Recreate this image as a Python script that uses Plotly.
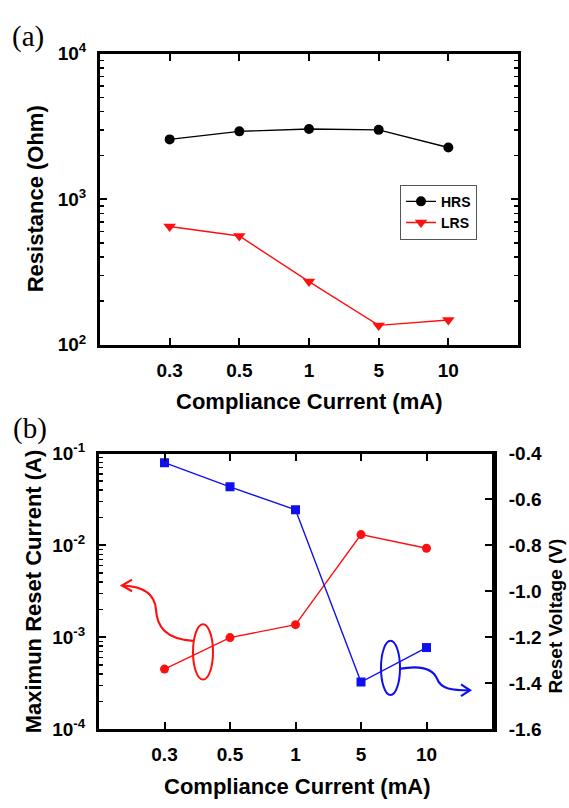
import plotly.graph_objects as go

W, H = 569, 808

# ---------------- data ----------------
categories = ['0.3', '0.5', '1', '5', '10']          # compliance current (mA)
hrs_ohm = [2580, 2930, 3040, 3000, 2270]            # HRS resistance (Ohm)
lrs_ohm = [650, 560, 272, 136, 148]                 # LRS resistance (Ohm)
reset_current_a = [4.5e-4, 9.9e-4, 1.37e-3, 1.31e-2, 9.3e-3]   # max reset current (A)
reset_voltage_v = [-0.44, -0.545, -0.645, -1.395, -1.245]      # reset voltage (V)

res_exponents = [2, 3, 4]
cur_exponents = [-4, -3, -2, -1]
volt_tickvals = [-1.6, -1.4, -1.2, -1.0, -0.8, -0.6, -0.4]
volt_ticktext = ['-1.6', '-1.4', '-1.2', '-1.0', '-0.8', '-0.6', '-0.4']
minor_digits = [2, 3, 4, 5, 6, 7, 8, 9]

res_tickvals = [10.0 ** e for e in res_exponents]
res_ticktext = [f'10<sup>{e}</sup>' for e in res_exponents]
cur_tickvals = [10.0 ** e for e in cur_exponents]
cur_ticktext = [f'10<sup>{e}</sup>' for e in cur_exponents]
res_minor = [d * 10.0 ** e for e in res_exponents[:-1] for d in minor_digits]
cur_minor = [d * 10.0 ** e for e in cur_exponents[:-1] for d in minor_digits]

# ---------------- helpers ----------------
def px(x):
    return x / W

def py(y):
    return 1 - y / H

FONT = "Liberation Sans, Arial, sans-serif"
RED = "#ff1010"
BLUE = "#1010ee"

def bold(size, color="black"):
    return dict(family=FONT, size=size, color=color, weight="bold")

fig = go.Figure()

# (a) resistance
fig.add_trace(go.Scatter(
    x=categories, y=hrs_ohm, name='HRS', mode='lines+markers',
    line=dict(color='black', width=1.4),
    marker=dict(symbol='circle', size=10, color='black'),
    xaxis='x', yaxis='y'))
fig.add_trace(go.Scatter(
    x=categories, y=lrs_ohm, name='LRS', mode='lines+markers',
    line=dict(color=RED, width=1.4),
    marker=dict(symbol='triangle-down', size=11, color=RED),
    xaxis='x', yaxis='y'))

# (b) reset current / voltage
fig.add_trace(go.Scatter(
    x=categories, y=reset_current_a, name='Maximum reset current', mode='lines+markers',
    line=dict(color=RED, width=1.4),
    marker=dict(symbol='circle', size=9, color=RED),
    xaxis='x2', yaxis='y2', showlegend=False))
fig.add_trace(go.Scatter(
    x=categories, y=reset_voltage_v, name='Reset voltage', mode='lines+markers',
    line=dict(color=BLUE, width=1.4),
    marker=dict(symbol='square', size=9, color=BLUE),
    xaxis='x2', yaxis='y3', showlegend=False))

common_x = dict(type='category', range=[-1, 5], showline=True, linecolor='black',
                linewidth=3, mirror='ticks', ticks='inside', ticklen=7, tickwidth=2,
                tickcolor='black', tickfont=bold(19), showgrid=False, zeroline=False,
                ticklabelstandoff=6)

def minor_log(vals):
    return dict(tickvals=vals, ticks='inside', ticklen=4, tickwidth=1.5,
                tickcolor='black', showgrid=False)

fig.update_layout(
    width=W, height=H,
    margin=dict(l=0, r=0, t=0, b=0),
    paper_bgcolor='white', plot_bgcolor='white',
    xaxis=dict(domain=[px(100), px(518)], anchor='y', **common_x),
    yaxis=dict(domain=[py(342), py(42)], anchor='x', type='log', range=[2, 4],
               tickvals=res_tickvals, ticktext=res_ticktext,
               showline=True, linecolor='black', linewidth=3, mirror='ticks',
               ticks='inside', ticklen=7, tickwidth=2, tickcolor='black',
               tickfont=bold(19), showgrid=False, zeroline=False,
               ticklabelstandoff=7, minor=minor_log(res_minor)),
    xaxis2=dict(domain=[px(99), px(492)], anchor='y2', **common_x),
    yaxis2=dict(domain=[py(738), py(454)], anchor='x2', type='log', range=[-4, -1],
                tickvals=cur_tickvals, ticktext=cur_ticktext,
                showline=True, linecolor='black', linewidth=3, mirror=False,
                ticks='inside', ticklen=7, tickwidth=2, tickcolor='black',
                tickfont=bold(19), showgrid=False, zeroline=False,
                ticklabelstandoff=7, minor=minor_log(cur_minor)),
    yaxis3=dict(overlaying='y2', side='right', anchor='x2', range=[-1.6, -0.4],
                tickvals=volt_tickvals, ticktext=volt_ticktext,
                showline=True, linecolor='black', linewidth=5,
                ticks='inside', ticklen=7, tickwidth=2, tickcolor='black',
                tickfont=bold(19), showgrid=False, zeroline=False,
                ticklabelstandoff=8),
    legend=dict(x=px(400), y=py(177), xanchor='left', yanchor='top',
                bgcolor='white', bordercolor='#555555', borderwidth=1,
                font=bold(14), itemwidth=30, tracegroupgap=0),
    showlegend=True,
)

# ---------------- text ----------------
annotations = [
    dict(text='(a)', x=px(28), y=py(24), font=dict(family='Liberation Serif, Times New Roman, serif', size=29, color='black')),
    dict(text='(b)', x=px(30), y=py(428), font=dict(family='Liberation Serif, Times New Roman, serif', size=29, color='black')),
    dict(text='Resistance (Ohm)', x=px(35), y=py(192), textangle=-90, font=bold(22)),
    dict(text='Compliance Current (mA)', x=px(309), y=py(400), font=bold(22)),
    dict(text='Maximun Reset Current (A)', x=px(33), y=py(596), textangle=-90, font=bold(22)),
    dict(text='Reset Voltage (V)', x=px(556), y=py(622), textangle=-90, font=bold(19)),
    dict(text='Compliance Current (mA)', x=px(297), y=py(797), font=bold(22)),
]
for a in annotations:
    a.update(xref='paper', yref='paper', showarrow=False, xanchor='center', yanchor='middle')
fig.update_layout(annotations=annotations)

# ---------------- decorations (ellipses + curved arrows) ----------------
def path(cmds):
    out = []
    for c in cmds:
        if isinstance(c, str):
            out.append(c)
        else:
            out.append(f"{px(c[0]):.5f},{py(c[1]):.5f}")
    return ' '.join(out)

shapes = [
    # red ellipse + arrow to left axis
    dict(type='circle', x0=px(193), x1=px(213), y0=py(687), y1=py(630),
         line=dict(color=RED, width=2)),
    dict(type='path', path=path(['M', (193, 647), 'C', (165, 645), (157, 632), (156, 615),
                                 'C', (155, 600), (145, 591), (123, 590)]),
         line=dict(color=RED, width=2.2)),
    dict(type='path', path=path(['M', (132, 584), 'L', (122, 590), 'L', (132, 596)]),
         line=dict(color=RED, width=2.2)),
    # blue ellipse + arrow to right axis
    dict(type='circle', x0=px(381), x1=px(400), y0=py(703), y1=py(647),
         line=dict(color=BLUE, width=2)),
    dict(type='path', path=path(['M', (399, 676), 'C', (420, 672), (433, 676), (437, 686),
                                 'C', (441, 697), (452, 698), (470, 698)]),
         line=dict(color=BLUE, width=2.2)),
    dict(type='path', path=path(['M', (461, 692), 'L', (470, 698), 'L', (461, 704)]),
         line=dict(color=BLUE, width=2.2)),
]
for s in shapes:
    s.update(xref='paper', yref='paper')
fig.update_layout(shapes=shapes)

# remove the default 8px page margin so the figure sits at the window's top-left corner
fig.write_html("out.html",
               config={'displayModeBar': False, 'staticPlot': True},
               post_script="document.body.style.margin='0';document.body.style.overflow='hidden';")
